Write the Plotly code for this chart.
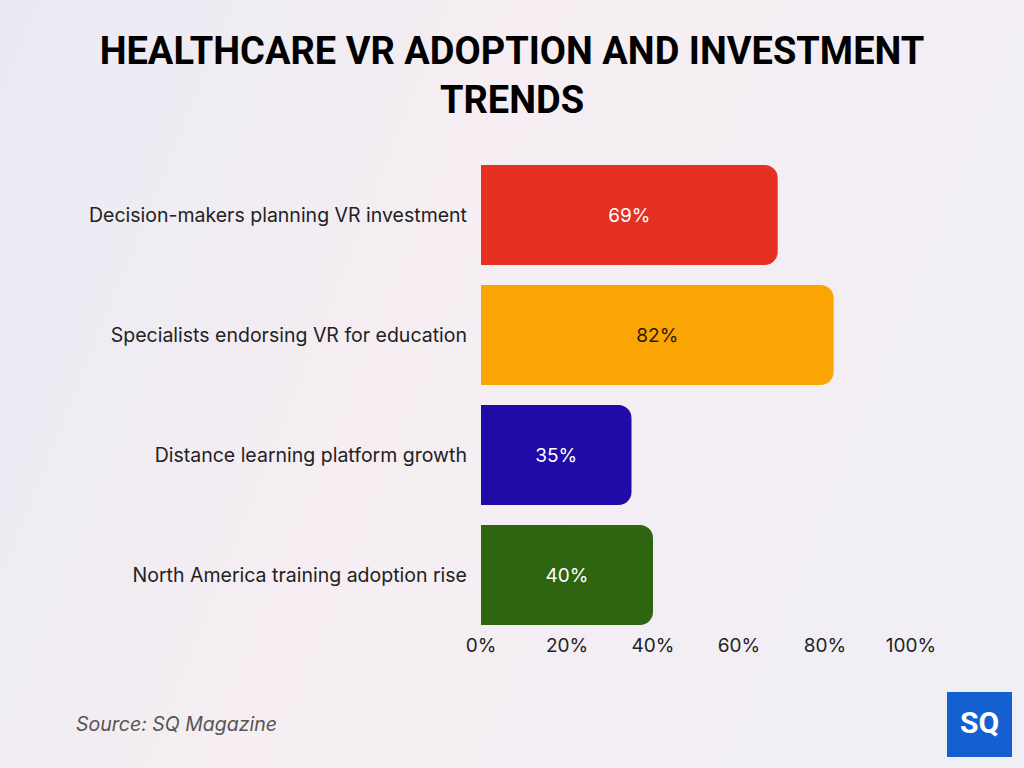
import base64
import plotly.graph_objects as go

categories = [
    "Decision-makers planning VR investment",
    "Specialists endorsing VR for education",
    "Distance learning platform growth",
    "North America training adoption rise",
]
values = [69, 82, 35, 40]
bar_colors = ["#E63022", "#FBA505", "#1F0BA8", "#2F6411"]
label_colors = ["#FFFFFF", "#2A1A0A", "#FFFFFF", "#FFFFFF"]
tick_vals = [0, 20, 40, 60, 80, 100]
tick_text = ["0%", "20%", "40%", "60%", "80%", "100%"]

# subtle background gradient (lavender on the left, pink tint to the right)
svg = (
    '<svg xmlns="http://www.w3.org/2000/svg" width="1024" height="768">'
    '<defs><linearGradient id="g" x1="0" y1="0" x2="1" y2="0.3">'
    '<stop offset="0" stop-color="#E9EAF4"/>'
    '<stop offset="0.5" stop-color="#F6EEF2"/>'
    '<stop offset="1" stop-color="#F1EEF5"/>'
    '</linearGradient></defs>'
    '<rect width="1024" height="768" fill="url(#g)"/></svg>'
)
bg_uri = "data:image/svg+xml;base64," + base64.b64encode(svg.encode()).decode()

fig = go.Figure(
    go.Bar(
        x=values,
        y=categories,
        orientation="h",
        marker=dict(color=bar_colors, line=dict(width=0)),
        text=[f"{v}%" for v in values],
        textposition="inside",
        insidetextanchor="middle",
        textfont=dict(family="Inter", size=19, color=label_colors),
        hoverinfo="skip",
    )
)

fig.update_layout(
    width=1024,
    height=768,
    autosize=False,
    paper_bgcolor="#F3EEF3",
    plot_bgcolor="rgba(0,0,0,0)",
    margin=dict(l=0, r=0, t=0, b=0, pad=0, autoexpand=False),
    bargap=0.167,
    barcornerradius=13,
    showlegend=False,
    images=[dict(
        source=bg_uri, xref="paper", yref="paper", x=0, y=1,
        sizex=1, sizey=1, xanchor="left", yanchor="top",
        sizing="stretch", layer="below",
    )],
    title=dict(
        text="<b>HEALTHCARE VR ADOPTION AND INVESTMENT<br>TRENDS</b>",
        x=0.5,
        xanchor="center",
        y=(768 - 64) / 768,
        yanchor="middle",
        font=dict(family="Roboto", size=38, color="#000000", weight=900),
    ),
    xaxis=dict(
        domain=[481 / 1024, 911 / 1024],
        range=[0, 100],
        tickvals=tick_vals,
        ticktext=tick_text,
        showgrid=False,
        zeroline=False,
        showline=False,
        ticks="",
        automargin=False,
        ticklabelstandoff=-3,
        tickfont=dict(family="Inter", size=19, color="#222222"),
        fixedrange=True,
    ),
    yaxis=dict(
        domain=[(768 - 635) / 768, (768 - 155) / 768],
        autorange="reversed",
        showgrid=False,
        zeroline=False,
        showline=False,
        ticks="",
        automargin=False,
        ticklabelstandoff=13,
        tickfont=dict(family="Inter", size=19.5, color="#222222"),
        fixedrange=True,
    ),
)

fig.add_annotation(
    text="<i>Source: SQ Magazine</i>",
    xref="paper", yref="paper",
    x=74 / 1024, y=(768 - 724) / 768,
    xanchor="left", yanchor="middle",
    showarrow=False,
    font=dict(family="Inter", size=19.5, color="#555555"),
)

fig.add_shape(
    type="rect", xref="paper", yref="paper",
    x0=947 / 1024, x1=1012 / 1024, y0=(768 - 757) / 768, y1=(768 - 692) / 768,
    fillcolor="#1560D0", line=dict(width=0), layer="above",
)
fig.add_annotation(
    text="<b>SQ</b>",
    xref="paper", yref="paper",
    x=979.5 / 1024, y=(768 - 722) / 768,
    xanchor="center", yanchor="middle",
    showarrow=False,
    font=dict(family="Roboto", size=30, color="#FFFFFF"),
)

fig.write_html("out.html")
